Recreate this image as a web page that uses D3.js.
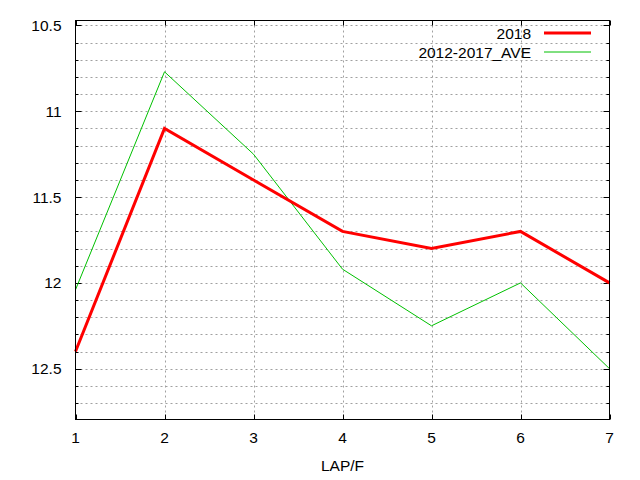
<!DOCTYPE html>
<html>
<head>
<meta charset="utf-8">
<script src="https://cdn.jsdelivr.net/npm/d3@7"></script>
<style>
  body { margin: 0; background: #fff; }
  text { font-family: "Liberation Sans", Arial, sans-serif; font-size: 15.5px; fill: #000; }
</style>
</head>
<body>
<svg id="chart" width="640" height="480"></svg>
<script>
// lap number along the x axis
var laps = [1, 2, 3, 4, 5, 6, 7];
var times2018 = [12.4, 11.1, 11.4, 11.7, 11.8, 11.7, 12.0];
var timesAve = [12.04, 10.77, 11.25, 11.92, 12.25, 12.0, 12.5];
var yTicks = [10.5, 11, 11.5, 12, 12.5];
var yMinor = d3.range(105, 128).map(function(d) { return d / 10; });
var seriesNames = ["2018", "2012-2017_AVE"];

var svg = d3.select("#chart");
var pLeft = 75.5, pRight = 609.5, pTop = 20.5, pBottom = 419.5;

var x = d3.scaleLinear().domain([1, 7]).range([pLeft, pRight]);
var y = d3.scaleLinear().domain([10.471, 12.796]).range([pTop, pBottom]);

// grid
var grid = svg.append("g")
    .style("stroke", "#a0a0a0")
    .style("stroke-width", "1px")
    .style("stroke-dasharray", "2,3");

grid.selectAll("line.h").data(yMinor).enter().append("line")
    .attr("x1", pLeft).attr("x2", pRight)
    .attr("y1", function(d) { return Math.round(y(d)) + 0.5; })
    .attr("y2", function(d) { return Math.round(y(d)) + 0.5; });

grid.selectAll("line.v").data(laps.slice(1, -1)).enter().append("line")
    .attr("y1", pTop).attr("y2", pBottom)
    .attr("x1", function(d) { return Math.round(x(d)) + 0.5; })
    .attr("x2", function(d) { return Math.round(x(d)) + 0.5; });

// tick marks, mirrored on all sides
var ticks = svg.append("g").style("stroke", "#000").style("stroke-width", "1px");
yMinor.forEach(function(d) {
  var yy = Math.round(y(d)) + 0.5;
  var len = yTicks.indexOf(d) >= 0 ? 6 : 3;
  ticks.append("line").attr("x1", pLeft).attr("x2", pLeft + len).attr("y1", yy).attr("y2", yy);
  ticks.append("line").attr("x1", pRight).attr("x2", pRight - len).attr("y1", yy).attr("y2", yy);
});
laps.forEach(function(d) {
  var xx = Math.round(x(d)) + 0.5;
  ticks.append("line").attr("x1", xx).attr("x2", xx).attr("y1", pBottom).attr("y2", pBottom - 5);
  ticks.append("line").attr("x1", xx).attr("x2", xx).attr("y1", pTop).attr("y2", pTop + 5);
});

// tick labels
svg.selectAll("text.yl").data(yTicks).enter().append("text")
    .attr("x", pLeft - 14)
    .attr("y", function(d) { return y(d); })
    .attr("dy", "0.36em")
    .attr("text-anchor", "end")
    .text(function(d) { return d; });

svg.selectAll("text.xl").data(laps).enter().append("text")
    .attr("x", function(d) { return x(d); })
    .attr("y", pBottom + 18)
    .attr("dy", "0.36em")
    .attr("text-anchor", "middle")
    .text(function(d) { return d; });

svg.append("text")
    .attr("x", (pLeft + pRight) / 2)
    .attr("y", 465)
    .attr("dy", "0.36em")
    .attr("text-anchor", "middle")
    .text("LAP/F");

// lines
var line = d3.line()
    .x(function(d, i) { return x(laps[i]); })
    .y(function(d) { return y(d); });

svg.append("path")
    .datum(timesAve)
    .style("fill", "none")
    .style("stroke", "#00c000")
    .style("stroke-width", "1px")
    .attr("d", line);

svg.append("path")
    .datum(times2018)
    .style("fill", "none")
    .style("stroke", "#ff0000")
    .style("stroke-width", "3px")
    .attr("d", line);

// legend
var colors = ["#ff0000", "#00c000"];
var widths = [3, 1];
seriesNames.forEach(function(name, i) {
  var ly = 33 + i * 19;
  svg.append("text")
      .attr("x", 531)
      .attr("y", ly)
      .attr("dy", "0.36em")
      .attr("text-anchor", "end")
      .text(name);
  svg.append("line")
      .attr("x1", 544).attr("x2", 591)
      .attr("y1", ly).attr("y2", ly)
      .style("stroke", colors[i])
      .style("stroke-width", widths[i] + "px");
});

// border
svg.append("rect")
    .attr("x", pLeft).attr("y", pTop)
    .attr("width", pRight - pLeft).attr("height", pBottom - pTop)
    .style("fill", "none")
    .style("stroke", "#000")
    .style("stroke-width", "1px");
</script>
</body>
</html>
